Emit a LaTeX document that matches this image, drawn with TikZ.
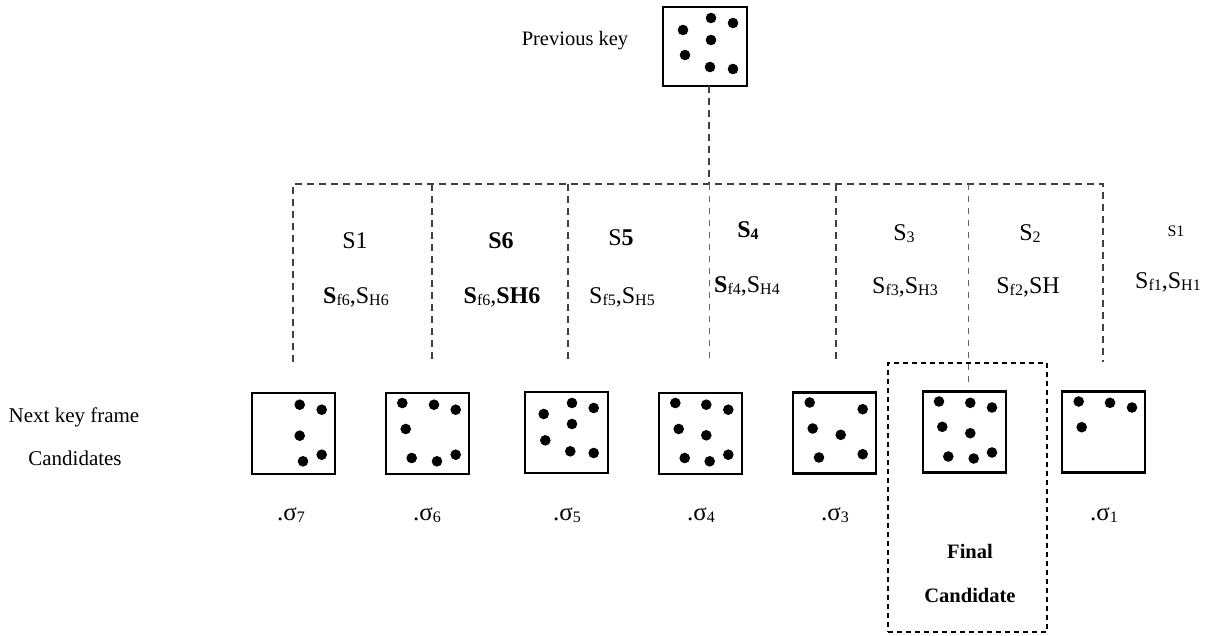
\documentclass[tikz,border=0pt]{standalone}
\usepackage{fontspec}
\setmainfont{Liberation Serif}
\usetikzlibrary{calc}
\newcommand\fs[1]{\fontsize{#1}{#1}\selectfont}
\newcommand\sbx[1]{\raisebox{-2.5pt}{\fontsize{16}{16}\selectfont #1}}
\newcommand\keydots[2]{\foreach \a/\b in {#2} \fill ($(#1.north west)+(\a,\b)$) circle[radius=5.3pt];}
\begin{document}
\begin{tikzpicture}[x=1pt,y=-1pt,
  frame/.style={draw,line width=2.8pt,minimum width=83pt,minimum height=81pt,inner sep=0pt,outer sep=0pt},
  tree/.style={draw=black!75,line width=2pt,dash pattern=on 7pt off 5pt},
  thintree/.style={draw=black!60,line width=1pt,dash pattern=on 6pt off 6pt},
  lab/.style={font=\fs{24},inner sep=0pt,anchor=base},
  side/.style={font=\fs{21},inner sep=0pt,anchor=base},
  fin/.style={font=\fs{20.5}\bfseries,inner sep=0pt,anchor=base},
  finbox/.style={draw,line width=1.6pt,dash pattern=on 5pt off 4pt,minimum width=159pt,minimum height=269pt,inner sep=0pt}]
\useasboundingbox (0,0) rectangle (1208,635);

% previous key
\node[frame,minimum width=84pt,minimum height=79pt] (prev) at (705,46.5) {};
\keydots{prev}{20/23,48/11,70/16,48/33,22/48,47/60,70/62}
\node[side,font=\fs{20.5}] (prevlab) at (575,45) {Previous key};

% candidate frames
\node[frame] (b1) at (293.5,433.5) {};
\node[frame] (b2) at (427.5,433.5) {};
\node[frame] (b3) at (566.5,432.5) {};
\node[frame] (b4) at (700.5,433.5) {};
\node[frame] (b5) at (834.5,433) {};
\node[frame] (b6) at (964.5,432) {};
\node[frame] (b7) at (1103.5,432) {};
\keydots{b1}{47.7/11.7,69.7/16.7,47.7/42.7,51/68.3,69.7/61.7}
\keydots{b2}{16.3/10,48/11.7,69.7/16.7,19.7/36,25.7/65,51/68.3,69.7/61.7}
\keydots{b3}{18.7/22,47/11,68.7/16,47/32,20.3/48.3,45.3/59.3,68.7/61}
\keydots{b4}{16.3/10,47.3/11.7,69.3/16.7,19.7/36,47.3/42.3,25.7/65,50.7/68.3,69.3/61.7}
\keydots{b5}{16.7/10,69.7/16.7,19.7/36,47.7/42.3,26/65,69.7/61.7}
\keydots{b6}{16/10,47.3/11.3,69/16,19.3/35.3,47.3/41.7,25.3/65,50.7/67,69/61}
\keydots{b7}{16.7/10,48/11.3,70/16,19.7/35.7}

% final candidate
\node[finbox] (fc) at (967.5,497.5) {};
\node[fin] (final1) at (970,558) {Final};
\node[fin] (final2) at (970,602) {Candidate};

% tree coordinates
\coordinate (j) at (709,184);
\coordinate (t1) at (293,184); \coordinate (e1) at (293,362);
\coordinate (t2) at (432,184); \coordinate (e2) at (432,362);
\coordinate (t3) at (568,184); \coordinate (e3) at (568,362);
\coordinate (e4) at (709,362);
\coordinate (t5) at (836,184); \coordinate (e5) at (836,362);
\coordinate (t6) at (968,184); \coordinate (e6) at (968,386);
\coordinate (t7) at (1103,184); \coordinate (e7) at (1103,362);

\draw[tree] (prev.south -| j) -- (j);
\draw[tree] (e1) -- (t1) -- (t7) -- (e7);
\draw[tree] (t2) -- (e2);
\draw[tree] (t3) -- (e3);
\draw[tree] (t5) -- (e5);
\draw[thintree] (j) -- (e4);
\draw[thintree] (t6) -- (e6);

% labels in columns
\node[lab] (s1a) at (355,248) {S1};
\node[lab] (s6a) at (501,248) {\textbf{S6}};
\node[lab] (s5a) at (621,245) {S\textbf{5}};
\node[lab] (s4a) at (748,237) {\textbf{S\sbx{4}}};
\node[lab] (s3a) at (904,240) {S\sbx{3}};
\node[lab] (s2a) at (1030,240) {S\sbx{2}};
\node[lab,font=\fs{16}] (s1b) at (1176,236) {S1};

\node[lab] (f6a) at (356,303) {\textbf{S}\sbx{f6},S\sbx{H6}};
\node[lab] (f6b) at (502,303) {\textbf{S}\sbx{f6},\textbf{SH6}};
\node[lab] (f5) at (622,303) {S\sbx{f5},S\sbx{H5}};
\node[lab] (f4) at (747,292) {\textbf{S}\sbx{f4},S\sbx{H4}};
\node[lab] (f3) at (905,293) {S\sbx{f3},S\sbx{H3}};
\node[lab] (f2) at (1028,293) {S\sbx{f2},SH};
\node[lab] (f1) at (1168,288) {S\sbx{f1},S\sbx{H1}};

% sigma labels
\node[lab,font=\fs{25}] (g7) at (291,520) {.σ\sbx{7}};
\node[lab,font=\fs{25}] (g6) at (427,520) {.σ\sbx{6}};
\node[lab,font=\fs{25}] (g5) at (567,520) {.σ\sbx{5}};
\node[lab,font=\fs{25}] (g4) at (701,520) {.σ\sbx{4}};
\node[lab,font=\fs{25}] (g3) at (835,520) {.σ\sbx{3}};
\node[lab,font=\fs{25}] (g1) at (1104,520) {.σ\sbx{1}};

% side labels
\node[side] (next1) at (74,422) {Next key frame};
\node[side] (next2) at (75,465) {Candidates};
\end{tikzpicture}
\end{document}
